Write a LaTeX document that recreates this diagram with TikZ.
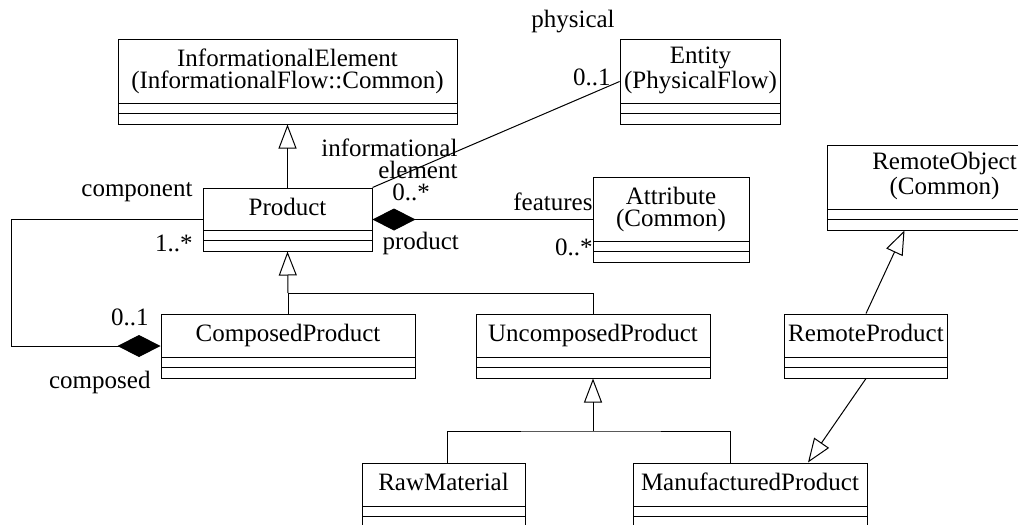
\documentclass[tikz,border=0pt]{standalone}
\usepackage{fontspec}
\setmainfont{Liberation Serif}
\usetikzlibrary{arrows.meta}
\tikzset{
  umlclass/.style={draw, inner xsep=2pt, inner ysep=0pt, align=center,
    text height=9pt, text depth=13.5pt,
    path picture={\draw ([yshift=10.5pt]path picture bounding box.south west) -- ([yshift=10.5pt]path picture bounding box.south east)
      ([yshift=5.5pt]path picture bounding box.south west) -- ([yshift=5.5pt]path picture bounding box.south east);}},
  twoline/.style={text height=20pt, text depth=13.5pt},
  role/.style={inner sep=0pt},
  gen/.style={-{Triangle[open,length=12pt,width=9pt]}},
  compo/.style={{Diamond[length=21.5pt,width=11pt]}-},
}

\begin{document}
\begin{tikzpicture}[x=0.5pt,y=-0.5pt,line width=0.5pt,font=\fontsize{12.5pt}{11pt}\selectfont]
  \useasboundingbox (0,0) rectangle (1018,525);
  \clip (0,0) rectangle (1018,525);
  \node[umlclass,twoline,minimum width=169.5pt,minimum height=42.5pt] (ie) at (287.5,81.5) {InformationalElement\\(InformationalFlow::Common)};
  \node[umlclass,twoline,minimum width=78.5pt,minimum height=42.5pt] (ent) at (700.5,81.5) {Entity\\(PhysicalFlow)};
  \node[umlclass,minimum width=84.5pt,minimum height=31.5pt] (prod) at (287.5,219.5) {Product};
  \node[umlclass,twoline,minimum width=78pt,minimum height=42.5pt] (attr) at (671,219.5) {Attribute\\(Common)};
  \node[umlclass,twoline,minimum width=117.5pt,minimum height=42.5pt] (robj) at (944.5,187.5) {RemoteObject\\(Common)};
  \node[umlclass,minimum width=127pt,minimum height=32pt] (comp) at (288,346) {ComposedProduct};
  \node[umlclass,minimum width=117pt,minimum height=32pt] (unc) at (593,346) {UncomposedProduct};
  \node[umlclass,minimum width=78pt,minimum height=32pt] (rprod) at (866,346) {RemoteProduct};
  \node[umlclass,minimum width=81.5pt,minimum height=32pt] (raw) at (443.5,495) {RawMaterial};
  \node[umlclass,minimum width=117pt,minimum height=32pt] (man) at (750,495) {ManufacturedProduct};

  \coordinate (j1) at (288,293);
  \coordinate (j2) at (593,431);
  \draw[gen] (prod.north) -- (ie.south);
  \draw[gen] (j1) -- (prod.south);
  \draw (comp.north) -- (j1) -| (unc.north);
  \draw[gen] (j2) -- (unc.south);
  \draw ([xshift=1.75pt]raw.north) |- (j2) -| ([xshift=-10pt]man.north);
  \draw[gen] (rprod.north) -- ([xshift=-20pt]robj.south);
  \draw[gen] (rprod.south) -- ([xshift=29pt]man.north);
  \draw (prod.north east) -- (ent.west);
  \draw[compo] (prod.east) -- (attr.west);
  \draw[-{Diamond[length=21.5pt,width=11pt]}] (prod.west) -- ++(-191,0) |- (comp.west);

  \node[role] (lphys) at (573,22) {physical};
  \node[role,anchor=east] (lent) at (611,77) {0..1};
  \node[role,anchor=east,align=right] (linfo) at (458,159) {informational\\element};
  \node[role] (lmany) at (411,192) {0..*};
  \node[role,anchor=east] (lcompn) at (193,192) {component};
  \node[role,anchor=east] (lone) at (193,243) {1..*};
  \node[role,anchor=west] (lprod) at (382,243) {product};
  \node[role,anchor=east] (lfeat) at (593,202) {features};
  \node[role,anchor=east] (lattr) at (593,247) {0..*};
  \node[role,anchor=east] (lzero) at (149,317) {0..1};
  \node[role,anchor=east] (lcomposed) at (151,382) {composed};
\end{tikzpicture}
\end{document}
